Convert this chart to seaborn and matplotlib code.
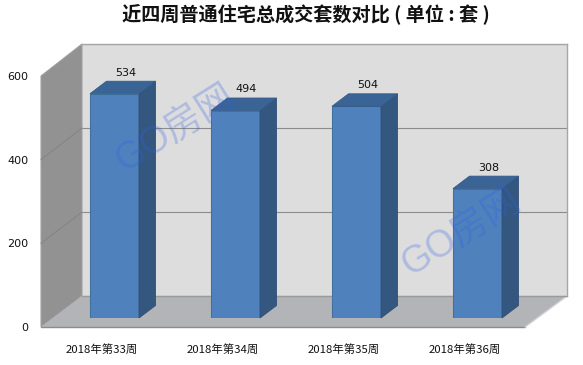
import matplotlib
matplotlib.use("Agg")
import matplotlib.pyplot as plt
from matplotlib.patches import Polygon
from matplotlib.lines import Line2D
from matplotlib.transforms import IdentityTransform
import pandas as pd
import seaborn as sns

weeks = ["2018年第33周", "2018年第34周", "2018年第35周", "2018年第36周"]
counts = [534, 494, 504, 308]
value_ticks = [0, 200, 400, 600]
title = "近四周普通住宅总成交套数对比 ( 单位 : 套 )"
watermark = "GO房网"

W, H = 583, 365
sns.set_theme(style="white")
plt.rcParams["font.family"] = ["Noto Sans CJK SC", "DejaVu Sans"]
fig = plt.figure(figsize=(W / 100, H / 100), dpi=100, facecolor="white")


def axes_px(x0, x1, y_top, y_bottom, z):
    ax = fig.add_axes([x0 / W, 1 - y_bottom / H, (x1 - x0) / W, (y_bottom - y_top) / H])
    ax.set_zorder(z)
    ax.set_ylim(0, 600)
    return ax


# back wall
back = axes_px(82, 567, 44, 296, 1)
back.set_facecolor("#DDDDDD")
back.set_xlim(-0.5, 3.5)
back.set_xticks([])
back.set_yticks(value_ticks)
back.set_yticklabels([])
back.tick_params(length=0)
back.grid(axis="y", color="#8C8C8C", linewidth=0.8)
back.set_axisbelow(True)
for name, sp in back.spines.items():
    sp.set_color("#A6A6A6")
    sp.set_linewidth(1)
    sp.set_visible(name in ("top", "right"))

# front plane: carries the axis labels
front = axes_px(41, 525, 76, 327, 4)
front.patch.set_alpha(0)
front.set_xlim(-0.5, 3.5)
front.set_xticks(range(len(weeks)))
front.set_xticklabels(weeks, fontsize=8.2, color="#111111")
front.set_yticks(value_ticks)
front.set_yticklabels([str(v) for v in value_ticks], fontsize=8, family="DejaVu Sans", color="#111111")
front.tick_params(axis="x", length=0, pad=12)
front.tick_params(axis="y", length=0, pad=9)
for sp in front.spines.values():
    sp.set_visible(False)

# bars
bars = axes_px(54, 538, 66, 318, 3)
bars.patch.set_alpha(0)
df = pd.DataFrame({"week": weeks, "count": counts})
sns.barplot(data=df, x="week", y="count", ax=bars, color="#4F81BD", saturation=1,
            width=0.405, edgecolor="#41719C", linewidth=0.8)
bars.set_xlim(-0.5, 3.5)
bars.set_ylim(0, 600)
bars.set_xlabel("")
bars.set_ylabel("")
bars.set_xticks([])
bars.set_yticks([])
for sp in bars.spines.values():
    sp.set_visible(False)

fig.canvas.draw()
ident = IdentityTransform()


def pt(ax, x, y):
    return tuple(ax.transData.transform((x, y)))


# left wall, floor and their edges, derived from the two planes
f_bl, f_tl = pt(front, -0.5, 0), pt(front, -0.5, 600)
f_br = pt(front, 3.5, 0)
b_bl, b_tl = pt(back, -0.5, 0), pt(back, -0.5, 600)
b_br = pt(back, 3.5, 0)
back.add_patch(Polygon([f_bl, f_tl, b_tl, b_bl], closed=True, transform=ident, clip_on=False,
                       facecolor="#929292", edgecolor="#A0A0A0", linewidth=0.8))
back.add_patch(Polygon([f_bl, f_br, b_br, b_bl], closed=True, transform=ident, clip_on=False,
                       facecolor="#B2B4B7", edgecolor="none", zorder=3))
for a, b, c in [(f_bl, f_br, "#8C8C8C"), (f_br, b_br, "#D0D0D0"), (b_bl, b_br, "#9A9A9A")]:
    back.add_line(Line2D([a[0], b[0]], [a[1], b[1]], transform=ident, color=c, lw=1, clip_on=False, zorder=4))
for v in value_ticks[1:-1]:
    a, b = pt(front, -0.5, v), pt(back, -0.5, v)
    back.add_line(Line2D([a[0], b[0]], [a[1], b[1]], transform=ident, color="#858585", lw=0.8, clip_on=False, zorder=3))

# bar depth faces, derived from the bar rectangles
DX, DY = 16.5, 12.5
for patch, value in zip(bars.patches, counts):
    x0, x1 = patch.get_x(), patch.get_x() + patch.get_width()
    bl, br = pt(bars, x0, 0), pt(bars, x1, 0)
    tl, tr = pt(bars, x0, value), pt(bars, x1, value)
    off = lambda p: (p[0] + DX, p[1] + DY)
    bars.add_patch(Polygon([br, tr, off(tr), off(br)], closed=True, transform=ident, clip_on=False,
                           facecolor="#34577F", edgecolor="#2F5078", linewidth=0.6, zorder=1))
    bars.add_patch(Polygon([tl, tr, off(tr), off(tl)], closed=True, transform=ident, clip_on=False,
                           facecolor="#3A6496", edgecolor="#345A88", linewidth=0.6, zorder=1))
    bars.annotate(str(value), xy=((x0 + x1) / 2, value), xytext=(7.8, 15.2), textcoords="offset points",
                  ha="center", va="center", fontsize=8, family="DejaVu Sans", color="#111111",
                  annotation_clip=False, zorder=6)

fig.text(122 / W, 1 - 14 / H, title, ha="left", va="center", fontsize=13.8, fontweight="bold", color="#111111")

for cx, cy in [(176, 129), (462, 233)]:
    fig.text(cx / W, 1 - cy / H, watermark, ha="center", va="center", rotation=32,
             fontsize=27, family=["Liberation Sans", "Noto Sans CJK SC"], color="#3060E8", alpha=0.27,
             zorder=10, rotation_mode="anchor")

fig.savefig("out.png", dpi=100, facecolor="white")
